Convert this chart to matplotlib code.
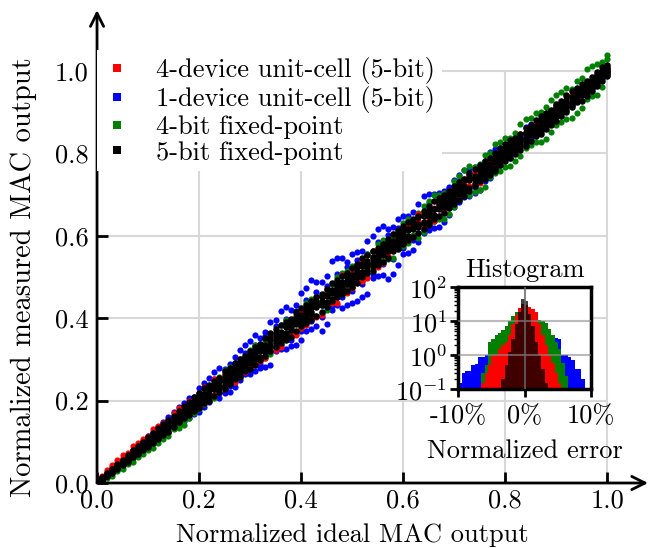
import numpy as np
import matplotlib.pyplot as plt
from matplotlib.lines import Line2D

plt.rcParams['font.family'] = ['cmr10']
plt.rcParams['mathtext.fontset'] = 'cm'
plt.rcParams['axes.unicode_minus'] = False
plt.rcParams['axes.formatter.use_mathtext'] = True
plt.rcParams['font.size'] = 19

# ideal MAC outputs (normalized)
ideal = [0.00, 0.01, 0.02, 0.03, 0.04, 0.05, 0.06, 0.07, 0.08, 0.09,
         0.10, 0.11, 0.12, 0.13, 0.14, 0.15, 0.16, 0.17, 0.18, 0.19,
         0.20, 0.21, 0.22, 0.23, 0.24, 0.25, 0.26, 0.27, 0.28, 0.29,
         0.30, 0.31, 0.32, 0.33, 0.34, 0.35, 0.36, 0.37, 0.38, 0.39,
         0.40, 0.41, 0.42, 0.43, 0.44, 0.45, 0.46, 0.47, 0.48, 0.49,
         0.50, 0.51, 0.52, 0.53, 0.54, 0.55, 0.56, 0.57, 0.58, 0.59,
         0.60, 0.61, 0.62, 0.63, 0.64, 0.65, 0.66, 0.67, 0.68, 0.69,
         0.70, 0.71, 0.72, 0.73, 0.74, 0.75, 0.76, 0.77, 0.78, 0.79,
         0.80, 0.81, 0.82, 0.83, 0.84, 0.85, 0.86, 0.87, 0.88, 0.89,
         0.90, 0.91, 0.92, 0.93, 0.94, 0.95, 0.96, 0.97, 0.98, 0.99,
         1.00]

# measured - ideal, in units of 0.001
red_err = [
    [3, 8, 12, 10, 15, 11, 14, 9, 16, 12,
     15, 6, 18, -4, 14, 20, -8, 17, 10, -12,
     19, -15, 8, 22, -10, 14, -18, 6, 21, -20,
     -22, 12, -25, -8, 18, -28, -14, 10, -24, -30,
     15, -27, -19, 8, -31, 20, -23, -12, 24, -29,
     -26, 14, -30, -9, 22, -25, 11, -20, 25, -17,
     14, -20, 9, 22, -13, 17, -24, 11, -16, 20,
     -17, 12, 19, -10, 15, -21, 7, -18, 14, 10,
     -9, 12, -6, 18, -10, 5, 8, -11, 7, -4,
     6, -8, 20, -5, 7, -9, 4, 8, -3, 6,
     12],
    [2, 5, 7, 14, 9, 17, 8, 19, 11, 18,
     9, 21, 3, 16, -6, 12, 22, -9, 19, 5,
     -12, 24, -4, -17, 16, -22, 10, -26, 13, 7,
     16, -19, 6, -27, -12, 9, -31, 14, -16, 3,
     -24, 11, 5, -28, 13, -18, 7, -33, -10, 17,
     9, -22, 19, -32, -7, 16, -27, 6, -14, 20,
     -19, 11, -23, 6, 18, -12, 8, -21, 15, -9,
     13, -16, 7, 17, -11, 9, -15, 12, -8, 16,
     6, -10, 9, -7, 11, -5, 13, -8, 4, 10,
     -7, 9, -4, 11, -6, 8, -10, 5, 12, -5,
     7],
]
blue_err = [
    [1, -3, 4, -6, 7, -5, 9, -8, 11, -7,
     14, -12, 17, -15, 20, -11, 24, -19, 27, -22,
     30, -26, 35, -18, 38, -31, 28, -36, 42, -25,
     45, -38, 33, -48, 52, -29, 57, -44, 39, -55,
     61, -42, 72, -50, 48, -63, 80, -37, 66, -58,
     55, -67, 44, -71, 59, -47, 63, -74, 41, -60,
     48, -52, 38, -45, 56, -36, 42, -49, 30, -40,
     35, -28, 41, -33, 26, -38, 22, -30, 31, -19,
     15, -22, 12, -10, 24, -14, 9, -18, 11, -8,
     8, -12, 6, -9, 10, -7, 5, -11, 7, -4,
     5],
    [-2, 2, -4, 5, -5, 8, -7, 10, -9, 12,
     -10, 15, -14, 18, -17, 22, -16, 25, -21, 19,
     -28, 33, -24, 39, -33, 27, -40, 36, -30, 44,
     -35, 49, -42, 37, -53, 46, -34, 58, -47, 41,
     -52, 64, -45, 58, -70, 53, -41, 75, -56, 47,
     -62, 50, -69, 57, -43, 66, -55, 46, -72, 52,
     -44, 39, -54, 47, -33, 51, -41, 35, -46, 28,
     -31, 37, -25, 29, -36, 20, -27, 33, -17, 24,
     -13, 18, -20, 9, -11, 21, -16, 7, -12, 14,
     -10, 6, -8, 13, -5, 9, -13, 4, -7, 8,
     -6],
    [0, 1, -2, 3, -3, 4, -4, 6, -5, 7,
     -7, 9, -8, 12, -10, 13, -11, 16, -12, 14,
     -18, 20, -15, 23, -21, 17, -24, 22, -19, 26,
     -27, 24, -30, 28, -22, 32, -25, 29, -33, 27,
     -30, 35, -26, 33, -36, 28, -31, 38, -29, 34,
     -35, 31, -38, 27, -32, 36, -28, 33, -37, 30,
     -29, 26, -31, 22, -27, 30, -24, 28, -21, 25,
     -20, 23, -18, 21, -22, 16, -19, 17, -15, 20,
     -9, 11, -8, 13, -7, 10, -12, 6, -10, 8,
     -6, 7, -5, 9, -8, 4, -6, 7, -4, 5,
     3],
]
green_err = [
    [-2, -5, -9, -12, -8, -15, -11, -18, -14, -20,
     -17, -24, -13, -22, -19, -9, -26, -16, -21, -12,
     15, -19, 10, -23, 18, -14, 21, -25, 12, -17,
     22, -18, 14, -26, 19, -11, 24, -21, 16, -28,
     20, -15, 27, -24, 12, -30, 23, -19, 29, -13,
     -25, 18, -29, 26, -16, 31, -22, 14, -33, 24,
     30, -27, 19, -35, 33, -21, 38, -29, 25, -36,
     34, -24, 40, -31, 28, -38, 36, -26, 42, -33,
     37, -40, 29, -35, 44, -30, 39, -42, 33, -37,
     41, -34, 38, -43, 35, -39, 45, -31, 36, -28,
     30],
    [-1, -3, -6, -4, -10, -7, -13, -9, -16, -11,
     -20, -14, -23, -10, -25, -18, -15, -28, -11, -19,
     -21, 13, -16, 20, -12, 24, -18, 11, -22, 19,
     -15, 25, -20, 13, -27, 17, -13, 26, -19, 21,
     -23, 28, -11, 22, -27, 16, -21, 30, -14, 25,
     27, -20, 17, -31, 23, -12, 29, -26, 20, -18,
     -24, 31, -17, 26, -30, 35, -23, 28, -38, 20,
     -29, 35, -22, 39, -34, 25, -41, 30, -27, 37,
     -32, 28, -38, 41, -26, 36, -33, 30, -44, 39,
     -30, 40, -36, 27, -41, 33, -29, 42, -37, 32,
     38],
]
black_err = [
    [0, 2, -1, 3, -2, 4, -3, 1, 5, -4,
     6, -5, 2, -7, 8, -3, 4, -9, 7, 1,
     -10, 6, -4, 11, -8, 3, -12, 9, -2, 13,
     -6, 10, -14, 5, 12, -9, 2, -13, 15, -4,
     8, -15, 11, -3, 14, -10, 6, -16, 9, 1,
     -12, 15, -7, 4, -14, 10, -2, 16, -11, 7,
     -15, 3, 13, -8, 11, -16, 5, 14, -6, -12,
     9, -3, 15, -13, 6, 12, -9, 2, -15, 10,
     -5, 14, -11, 8, -2, 13, -14, 4, 11, -8,
     15, -6, 9, -13, 3, 12, -10, 7, -4, 11,
     -3],
    [1, -2, 3, -1, 4, -3, 2, -5, 3, 6,
     -6, 4, -8, 7, -2, 9, -7, 3, -9, 8,
     5, -11, 10, -3, 7, -12, 12, -6, 9, -8,
     14, -3, 7, -12, -5, 13, -10, 8, -2, 12,
     -11, 5, -4, 13, -9, 7, -14, 10, -6, 15,
     6, -9, 12, -13, 8, -4, 14, -8, 5, -15,
     11, -10, -4, 15, -7, 9, -13, 2, 14, 7,
     -12, 13, -5, 8, -14, -2, 15, -11, 6, -7,
     12, -9, 5, -15, 10, -4, 7, -12, -3, 14,
     -9, 11, -14, 5, -11, -3, 14, -12, 10, -6,
     8],
    [-1, 1, 0, -2, 2, -1, 3, 0, -3, 2,
     3, -2, 5, -4, 1, -5, 6, -1, 4, -3,
     2, -6, 5, -1, 7, -4, 3, -7, 6, 0,
     -8, 4, 1, -7, 8, -2, 6, -5, 3, 7,
     2, -6, 8, -1, -7, 4, 9, -3, 5, -8,
     3, -5, 7, 0, -8, 5, -6, 2, 8, -3,
     -7, 6, 1, -4, 8, -2, -9, 7, 3, -5,
     4, -8, 2, 6, -3, 9, -6, 5, -1, -4,
     7, -2, -8, 3, 9, -6, 1, -4, 6, 2,
     -5, 4, -7, 8, -1, 6, -3, -8, 2, 5,
     1],
    [2, -1, -2, 2, -3, 1, -1, 4, -4, -2,
     -4, 7, -3, 2, -6, 4, -9, 6, -2, 5,
     8, -3, -9, 6, -5, 10, -7, 2, -10, 5,
     3, -10, 9, -3, -11, 7, -5, 11, -8, 1,
     -4, 10, -9, 6, 3, -12, 1, 7, -11, 11,
     -8, 2, -11, 9, 4, -10, 11, -5, -2, 12,
     5, -12, 9, -1, -10, 12, 4, -6, -11, 10,
     -9, 5, -11, 12, 1, -7, 8, -12, 11, 3,
     -10, 6, 11, -7, -12, 9, -5, 12, -9, -1,
     10, -11, 3, -6, 12, -9, 7, 1, -12, 9,
     -6],
    [3, -4, 5, -6, 6, -7, 8, -8, 9, -10,
     11, -12, 13, -14, 12, -15, 16, -13, 17, -16,
     18, -17, 19, -20, 16, -21, 20, -18, 22, -19,
     21, -23, 18, -22, 24, -20, 23, -24, 19, -22,
     24, -21, 22, -25, 20, -23, 25, -19, 23, -24,
     22, -24, 25, -20, 23, -22, 19, -25, 24, -21,
     23, -19, 22, -24, 20, -23, 24, -21, 18, -22,
     21, -24, 19, -20, 23, -18, 22, -23, 20, -19,
     22, -20, 18, -22, 21, -19, 20, -23, 17, -21,
     19, -18, 21, -17, 20, -22, 16, -19, 18, -15,
     14],
    [-3, 4, -4, 5, -7, 6, -8, 9, -9, 10,
     -12, 11, -14, 13, -15, 12, -13, 17, -16, 18,
     -17, 20, -21, 18, -19, 22, -20, 21, -23, 18,
     -24, 20, -22, 23, -19, 25, -21, 22, -25, 24,
     -20, 23, -24, 21, -25, 22, -19, 24, -22, 20,
     -23, 21, -19, 24, -25, 20, -24, 22, -18, 25,
     -21, 24, -23, 19, -24, 22, -20, 23, -25, 18,
     -22, 20, -24, 23, -18, 22, -21, 19, -23, 24,
     -19, 23, -21, 17, -22, 20, -18, 21, -20, 16,
     -21, 17, -19, 22, -16, 18, -20, 15, -17, 20,
     -12],
]

# histogram of normalized error (%), 0.5% bins from -10% to 10%
hist_edges = [-10.0, -9.5, -9.0, -8.5, -8.0, -7.5, -7.0, -6.5, -6.0, -5.5,
              -5.0, -4.5, -4.0, -3.5, -3.0, -2.5, -2.0, -1.5, -1.0, -0.5,
              0.0, 0.5, 1.0, 1.5, 2.0, 2.5, 3.0, 3.5, 4.0, 4.5,
              5.0, 5.5, 6.0, 6.5, 7.0, 7.5, 8.0, 8.5, 9.0, 9.5, 10.0]
hist_blue = [0.15, 0.3, 0.33, 0.33, 0.5, 0.55, 0.9, 0.9, 1.0, 2.2,
             2.3, 3.5, 4.5, 5.5, 7, 9, 12, 16, 22, 28,
             27, 21, 16, 12, 9, 7, 5, 4, 3.5, 3.2,
             3.0, 1.0, 1.0, 0.9, 0.7, 0.4, 0.4, 0.2, 0, 0]
hist_green = [0, 0, 0, 0, 0, 0, 0, 0.3, 0.5, 2.5,
              3, 4, 4.5, 5.5, 7, 10, 14, 18, 22, 25,
              24, 20, 16, 13, 11, 10, 9, 6, 4, 2.5,
              1.5, 0.6, 0.25, 0, 0, 0, 0, 0, 0, 0]
hist_red = [0, 0, 0, 0, 0, 0, 0, 0.15, 0.3, 0.5,
            1, 1, 1.5, 2, 2.5, 4, 8, 15, 25, 32,
            30, 26, 22, 18, 8, 4, 2, 1, 0.6, 0.3,
            0.15, 0, 0, 0, 0, 0, 0, 0, 0, 0]
hist_black = [0, 0, 0, 0, 0, 0, 0, 0, 0, 0,
              0, 0, 0, 0.2, 0.5, 1.2, 3, 8, 18, 45,
              40, 16, 7, 2.5, 1, 0.4, 0.15, 0, 0, 0,
              0, 0, 0, 0, 0, 0, 0, 0, 0, 0]

labels = ['4-device unit-cell (5-bit)', '1-device unit-cell (5-bit)',
          '4-bit fixed-point', '5-bit fixed-point']
RED, BLUE, GREEN, BLACK = '#ff0000', '#0000ff', '#008000', '#000000'

fig = plt.figure(figsize=(6.65, 5.48), dpi=100)
ax = fig.add_axes([0.1459, 0.1186, 0.8286, 0.863])

x = np.array(ideal)
for errs, col, s in [(blue_err, BLUE, 20), (green_err, GREEN, 20),
                     (red_err, RED, 20), (black_err, BLACK, 22)]:
    for e in errs:
        ax.scatter(x, x + np.array(e) / 1000.0, s=s, marker='o', color=col,
                   linewidths=0, zorder=3)

# grid only inside the unit square
gt = [0.2, 0.4, 0.6, 0.8, 1.0]
ax.vlines(gt, 0, 1.0, color='#d8d8d8', lw=1.5, zorder=1)
ax.hlines(gt, 0, 1.0, color='#d8d8d8', lw=1.5, zorder=1)

ax.set_xlim(0, 1.08)
ax.set_ylim(0, 1.148)
ticks = [0.0, 0.2, 0.4, 0.6, 0.8, 1.0]
ax.set_xticks(ticks)
ax.set_yticks(ticks)
ax.set_xticklabels(['0.0', '0.2', '0.4', '0.6', '0.8', '1.0'])
ax.set_yticklabels(['0.0', '0.2', '0.4', '0.6', '0.8', '1.0'])
ax.tick_params(direction='in', length=8, width=2, top=False, right=False)
ax.tick_params(axis='x', pad=4)
ax.tick_params(axis='y', pad=6)
for sp in ax.spines.values():
    sp.set_visible(False)
arrow = dict(arrowstyle='->,head_width=0.25,head_length=0.5', lw=2, color='black',
             shrinkA=0, shrinkB=0)
ax.annotate('', xy=(1, 0), xytext=(0, 0), xycoords='axes fraction', arrowprops=arrow,
            annotation_clip=False, zorder=6)
ax.annotate('', xy=(0, 1), xytext=(0, 0), xycoords='axes fraction', arrowprops=arrow,
            annotation_clip=False, zorder=6)

ax.set_xlabel('Normalized ideal MAC output', fontsize=19)
ax.set_ylabel('Normalized measured MAC output', fontsize=20.5)
ax.xaxis.set_label_coords(0.5 / 1.08, -0.086)
ax.yaxis.set_label_coords(-0.109, 0.5 / 1.148)

proxies = [Line2D([], [], ls='', marker='s', markersize=6, markeredgewidth=0, color=c)
           for c in (RED, BLUE, GREEN, BLACK)]
leg = ax.legend(proxies, labels, loc='upper left', bbox_to_anchor=(0.0, 0.915),
                frameon=True, framealpha=1, edgecolor='none', fancybox=False,
                handletextpad=1.0, handlelength=1.0, labelspacing=0.08,
                borderpad=0.25, borderaxespad=0.0)
leg.set_zorder(8)

# inset histogram
ins = fig.add_axes([0.689, 0.290, 0.2, 0.186])
ins.set_facecolor('white')
centers = [(a + b) / 2 for a, b in zip(hist_edges[:-1], hist_edges[1:])]
ins.hist(centers, bins=hist_edges, weights=hist_blue, color=BLUE, log=True, zorder=2)
ins.hist(centers, bins=hist_edges, weights=hist_green, color=GREEN, log=True, zorder=2)
ins.hist(centers, bins=hist_edges, weights=hist_red, color=RED, log=True, zorder=2)
ins.hist(centers, bins=hist_edges, weights=hist_black, color=BLACK, alpha=0.75, log=True, zorder=2)
ins.set_yscale('log')
ins.set_ylim(0.1, 100)
ins.set_xlim(-10, 10)
ins.axhline(1, color='0.55', alpha=0.6, lw=1.5, zorder=4)
ins.axhline(10, color='0.55', alpha=0.6, lw=1.5, zorder=4)
ins.axvline(0, color='0.4', alpha=0.8, lw=1.5, zorder=4)
ins.set_xticks([-10, 0, 10])
ins.set_xticklabels(['-10%', '0%', '10%'])
ins.set_yticks([0.1, 1, 10, 100])
ins.tick_params(which='major', direction='out', length=6, width=2, pad=2)
ins.tick_params(which='minor', direction='out', length=3, width=1)
ins.tick_params(axis='x', which='minor', bottom=False)
ins.tick_params(axis='x', pad=5)
for sp in ins.spines.values():
    sp.set_linewidth(2.5)
ins.set_title('Histogram', fontsize=19, pad=7)
ins.set_xlabel('Normalized error', labelpad=8)

fig.savefig('out.png', dpi=100)
